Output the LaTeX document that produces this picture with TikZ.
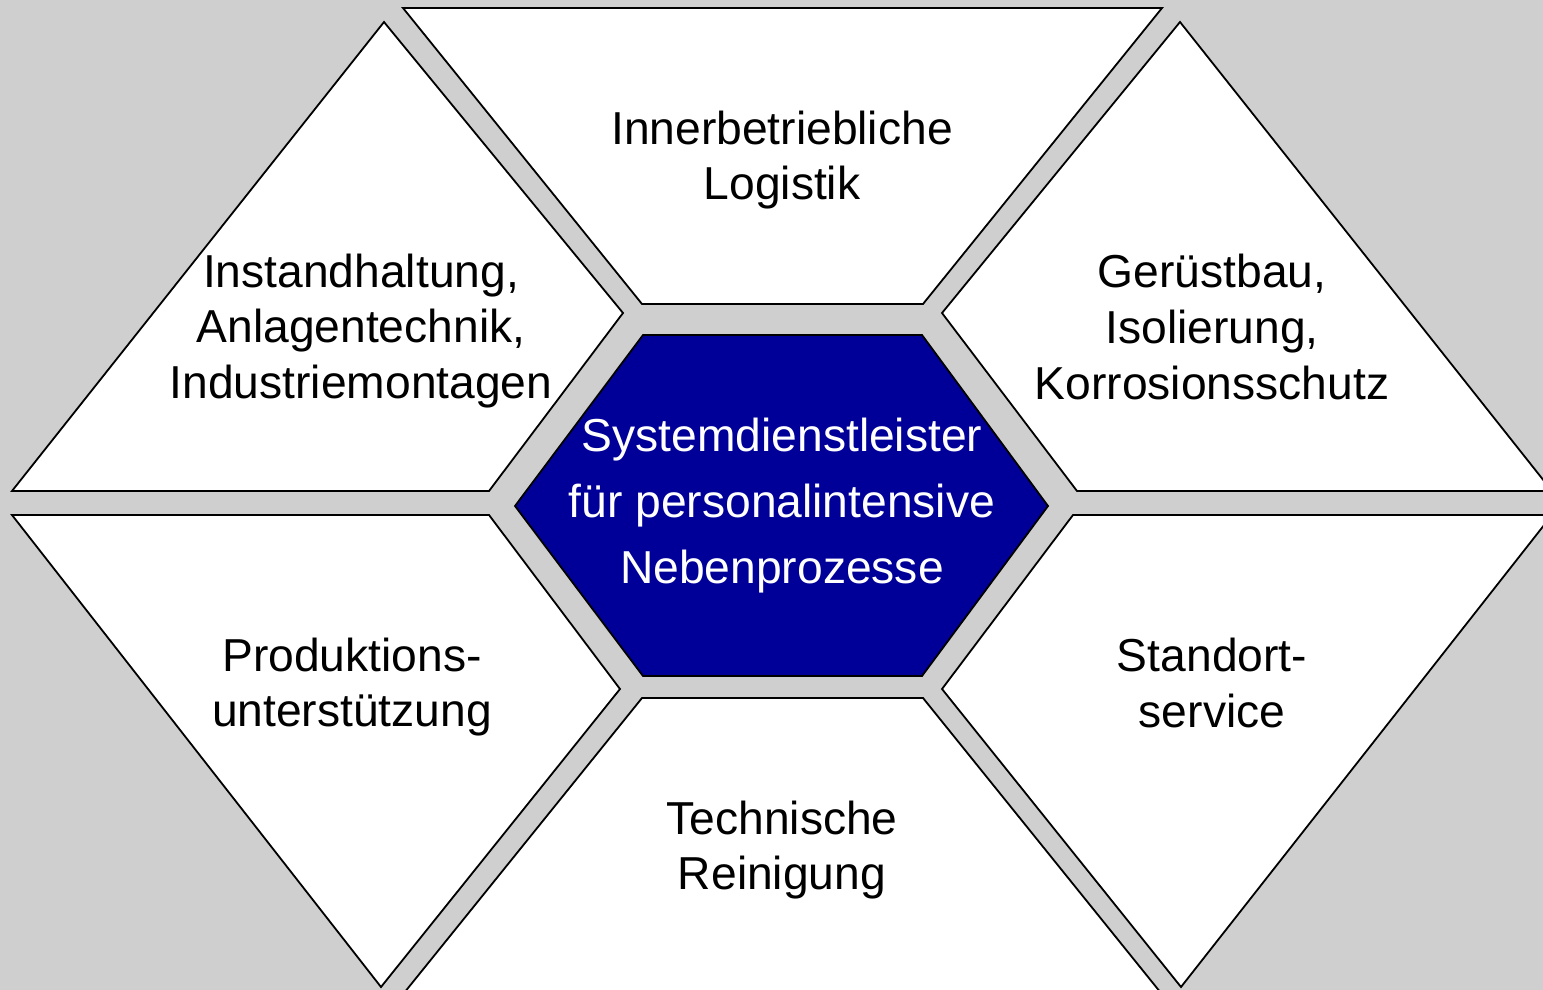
\documentclass[tikz,border=0pt]{standalone}
\usepackage{fontspec}
\setmainfont{Liberation Sans}
\usepackage{tikz}
\definecolor{hexblue}{RGB}{0,0,153}
\definecolor{bggray}{RGB}{207,207,207}

\begin{document}
\begin{tikzpicture}[x=0.5pt,y=-0.5pt,
    field/.style={fill=white,draw=black,line width=0.9pt,line join=miter},
    fieldtext/.style={align=center,font=\fontsize{23.1}{27.8}\selectfont}]
        \fill[bggray] (0,0) rectangle (1543,990);
        \useasboundingbox (0,0) rectangle (1543,990);
        \clip (0,0) rectangle (1543,990);
        % centre hexagon
        \coordinate(H1) at (643,335);
        \coordinate(H2) at (922,335);
        \coordinate(H3) at (1048,506);
        \coordinate(H4) at (922,676);
        \coordinate(H5) at (643,676);
        \coordinate(H6) at (515,506);
        \draw[fill=hexblue,line width=0.9pt] (H1)--(H2)--(H3)--(H4)--(H5)--(H6)--cycle;
        % outer fields
        \draw[field] (403,8)--(1162,8)--(923,304)--(642,304)--cycle;
        \draw[field] (642,698)--(923,698)--(1165,998)--(400,998)--cycle;
        \draw[field] (384,22)--(623,313)--(489,491)--(12,491)--cycle;
        \draw[field] (12,515)--(489,515)--(620,689)--(381,987)--cycle;
        \draw[field] (1180,22)--(1552,491)--(1077,491)--(942,313)--cycle;
        \draw[field] (1073,515)--(1552,515)--(1181,987)--(942,689)--cycle;
        % texts
        \node[fieldtext] (logistik) at (782,160) {Innerbetriebliche\\Logistik};
        \node[fieldtext] (instand) at (361,331) {Instandhaltung,\\Anlagentechnik,\\Industriemontagen};
        \node[fieldtext] (geruest) at (1212,327) {Gerüstbau,\\Isolierung,\\Korrosionsschutz};
        \node[fieldtext] (produktion) at (352,687) {Produktions-\\unterstützung};
        \node[fieldtext] (standort) at (1212,683) {Standort-\\service};
        \node[fieldtext] (reinigung) at (782,850) {Technische\\Reinigung};
        \node[fieldtext,text=white,font=\fontsize{23.1}{33}\selectfont] (system) at (782,506)
            {Systemdienstleister\\für personalintensive\\Nebenprozesse};
    \end{tikzpicture}
\end{document}
